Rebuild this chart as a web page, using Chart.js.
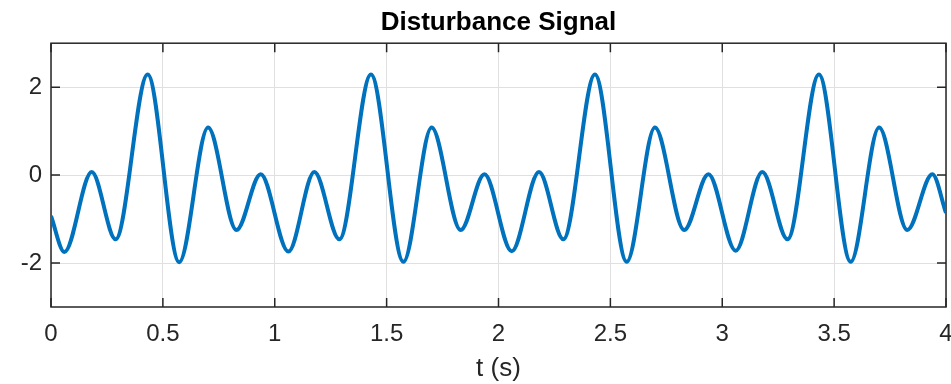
<!DOCTYPE html>
<html>
<head>
<meta charset="utf-8">
<script src="https://cdn.jsdelivr.net/npm/chart.js@4.4.1/dist/chart.umd.min.js"></script>
<style>
  html, body { margin: 0; padding: 0; background: #ffffff; }
  #wrap { width: 951px; height: 384px; }
</style>
</head>
<body>
<div id="wrap"><canvas id="c" width="951" height="384"></canvas></div>
<script>
// Data (time in s, signal value)
const timePoints = [
  0.000, 0.060, 0.182, 0.289, 0.432, 0.573, 0.702, 0.829, 0.937,
  1.061, 1.177, 1.289, 1.430, 1.575, 1.701, 1.831, 1.937,
  2.059, 2.181, 2.290, 2.431, 2.573, 2.699, 2.830, 2.938,
  3.060, 3.179, 3.292, 3.432, 3.574, 3.701, 3.827, 3.939,
  4.000
];
const signalValues = [
  -0.93, -1.75, 0.07, -1.46, 2.29, -1.98, 1.08, -1.25, 0.02,
  -1.74, 0.07, -1.46, 2.29, -1.97, 1.08, -1.25, 0.02,
  -1.73, 0.07, -1.46, 2.29, -1.97, 1.08, -1.25, 0.02,
  -1.72, 0.07, -1.46, 2.29, -1.97, 1.08, -1.25, 0.02,
  -0.86
];
const xTickValues = [0, 0.5, 1, 1.5, 2, 2.5, 3, 3.5, 4];
const xTickLabels = ['0', '0.5', '1', '1.5', '2', '2.5', '3', '3.5', '4'];
const yTickValues = [-2, 0, 2];
const yTickLabels = ['-2', '0', '2'];

const FONT = "'Liberation Sans', Arial, Helvetica, sans-serif";
const AXIS_COLOR = '#262626';
const GRID_COLOR = '#e0e0e0';
const TICK_LEN = 9;

const points = timePoints.map((t, i) => ({ x: t, y: signalValues[i] }));

const boxPlugin = {
  id: 'matlabBox',
  beforeDatasetsDraw(chart) {
    const { ctx, chartArea: a, scales } = chart;
    ctx.save();
    ctx.strokeStyle = AXIS_COLOR;
    ctx.lineWidth = 1.5;
    ctx.strokeRect(a.left, a.top, a.right - a.left, a.bottom - a.top);
    ctx.beginPath();
    xTickValues.forEach(v => {
      const px = scales.x.getPixelForValue(v);
      ctx.moveTo(px, a.bottom); ctx.lineTo(px, a.bottom - TICK_LEN);
      ctx.moveTo(px, a.top); ctx.lineTo(px, a.top + TICK_LEN);
    });
    yTickValues.forEach(v => {
      const py = scales.y.getPixelForValue(v);
      ctx.moveTo(a.left, py); ctx.lineTo(a.left + TICK_LEN, py);
      ctx.moveTo(a.right, py); ctx.lineTo(a.right - TICK_LEN, py);
    });
    ctx.stroke();
    ctx.restore();
  }
};

new Chart(document.getElementById('c'), {
  type: 'line',
  data: {
    datasets: [{
      data: points,
      borderColor: '#0072BD',
      borderWidth: 4,
      pointRadius: 0,
      fill: false,
      cubicInterpolationMode: 'monotone'
    }]
  },
  options: {
    responsive: false,
    animation: false,
    devicePixelRatio: 1,
    layout: { padding: { left: 0, right: 0, top: 0, bottom: 0 } },
    plugins: {
      legend: { display: false },
      tooltip: { enabled: false },
      title: {
        display: true,
        fullSize: false,
        text: 'Disturbance Signal',
        color: '#000000',
        font: { family: FONT, size: 26, weight: 'bold' },
        padding: { top: 7, bottom: 5 }
      }
    },
    scales: {
      x: {
        type: 'linear',
        min: 0,
        max: 4,
        afterBuildTicks(scale) { scale.ticks = xTickValues.map(v => ({ value: v })); },
        afterFit(scale) { scale.height = 77; scale.paddingLeft = 0; scale.paddingRight = 5; },
        grid: { color: GRID_COLOR, lineWidth: 1, drawTicks: false },
        border: { display: false },
        ticks: {
          color: AXIS_COLOR,
          font: { family: FONT, size: 24 },
          padding: 13,
          maxRotation: 0,
          autoSkip: false,
          callback(value) { const i = xTickValues.indexOf(value); return i >= 0 ? xTickLabels[i] : ''; }
        },
        title: {
          display: true,
          text: 't (s)',
          color: AXIS_COLOR,
          font: { family: FONT, size: 26 },
          padding: { top: 2, bottom: 0 }
        }
      },
      y: {
        type: 'linear',
        min: -3,
        max: 3,
        afterBuildTicks(scale) { scale.ticks = yTickValues.map(v => ({ value: v })); },
        afterFit(scale) { scale.width = 51; },
        grid: { color: GRID_COLOR, lineWidth: 1, drawTicks: false },
        border: { display: false },
        ticks: {
          color: AXIS_COLOR,
          font: { family: FONT, size: 24 },
          padding: 9,
          autoSkip: false,
          callback(value) { const i = yTickValues.indexOf(value); return i >= 0 ? yTickLabels[i] : ''; }
        }
      }
    }
  },
  plugins: [boxPlugin]
});
</script>
</body>
</html>
